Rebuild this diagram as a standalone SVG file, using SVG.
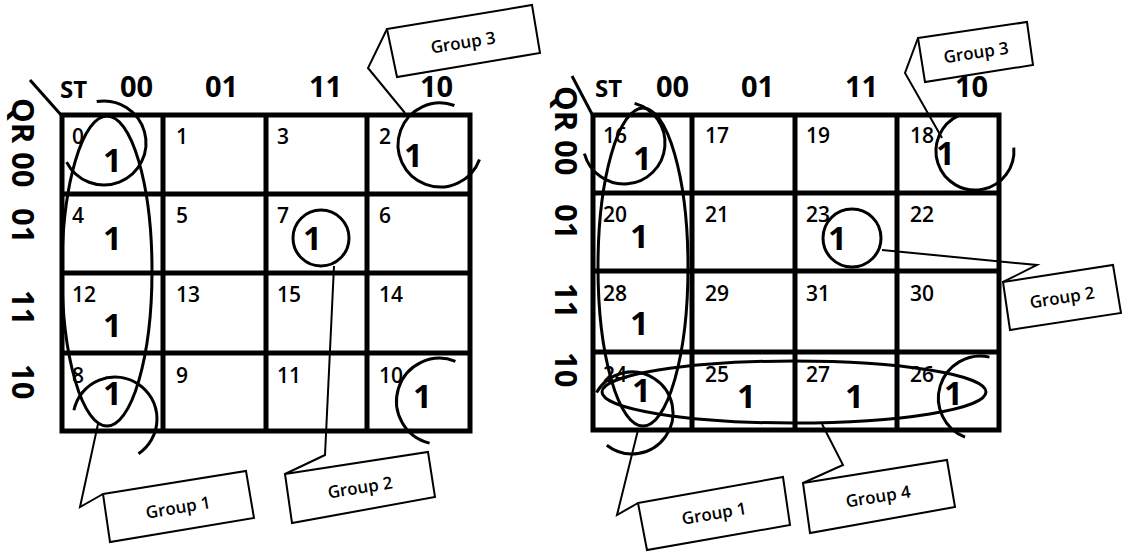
<svg xmlns="http://www.w3.org/2000/svg" width="1122" height="552" viewBox="0 0 1122 552">
<style>
.grid{fill:none;stroke:#000;stroke-width:5}
.loop{fill:none;stroke:#000;stroke-width:3}
.call{fill:none;stroke:#000;stroke-width:2}
.box{fill:#fff;stroke:#000;stroke-width:2}
.hdr{font-family:"Open Sans","Liberation Sans",sans-serif;font-weight:700;font-size:29px;fill:#000}
.st{font-family:"Open Sans","Liberation Sans",sans-serif;font-weight:700;font-size:24px;fill:#000}
.row{font-family:"Open Sans","Liberation Sans",sans-serif;font-weight:700;font-size:31px;fill:#000}
.num{font-family:"Open Sans","Liberation Sans",sans-serif;font-weight:600;font-size:21px;fill:#000}
.one{font-family:"Open Sans","Liberation Sans",sans-serif;font-weight:700;font-size:33px;fill:#000}
.lbl{font-family:"Open Sans","Liberation Sans",sans-serif;font-weight:600;font-size:17px;fill:#000;text-anchor:middle;dominant-baseline:central}
</style>

<g id="map-left">
  <line x1="30" y1="80" x2="62" y2="116" stroke="#000" stroke-width="3"/>
  <rect class="grid" x="62" y="115" width="408" height="316"/>
  <path class="grid" d="M163,115V431M266,115V431M367,115V431M62,194H470M62,273H470M62,353H470"/>
  <text class="st" x="60" y="98">ST</text>
  <text class="hdr" x="120" y="97">00</text>
  <text class="hdr" x="205" y="97">01</text>
  <text class="hdr" x="309" y="97">11</text>
  <text class="hdr" x="420" y="97">10</text>
  <text class="row" transform="translate(12,98) rotate(90)">QR</text>
  <text class="row" transform="translate(12,152) rotate(90)">00</text>
  <text class="row" transform="translate(12,208) rotate(90)">01</text>
  <text class="row" transform="translate(12,290) rotate(90)">11</text>
  <text class="row" transform="translate(12,364) rotate(90)">10</text>
  <g class="num">
    <text x="72" y="144">0</text><text x="176" y="144">1</text><text x="277" y="144">3</text><text x="379" y="144">2</text>
    <text x="72" y="223">4</text><text x="176" y="223">5</text><text x="277" y="223">7</text><text x="379" y="223">6</text>
    <text x="72" y="302">12</text><text x="176" y="302">13</text><text x="277" y="302">15</text><text x="379" y="302">14</text>
    <text x="72" y="383">8</text><text x="176" y="383">9</text><text x="277" y="383">11</text><text x="379" y="383">10</text>
  </g>
  <g class="one">
    <text x="103" y="172">1</text><text x="103" y="250">1</text><text x="103" y="337">1</text><text x="103" y="405">1</text>
    <text x="404" y="167">1</text><text x="303" y="250">1</text><text x="413" y="408">1</text>
  </g>
  <g id="left-loops">
    <ellipse class="loop" cx="107" cy="271" rx="45" ry="155"/>
    <path class="loop" d="M96.7,101.6 A42,42 0 1 1 66.6,162.1"/>
    <path class="loop" d="M454.4,105.5 A42,42 0 1 0 479.5,159.4"/>
    <circle class="loop" cx="321" cy="238" r="28"/>
    <path class="loop" d="M73.9,410.3 A42,42 0 1 1 138.5,453.8"/>
    <path class="loop" d="M455.4,361.3 A43,43 0 1 0 429.6,443.1"/>
  </g>
</g>

<g id="map-right">
  <line x1="572" y1="76" x2="593" y2="116" stroke="#000" stroke-width="3"/>
  <rect class="grid" x="593" y="115" width="406" height="315"/>
  <path class="grid" d="M692,115V430M795,115V430M897,115V430M593,193H999M593,271H999M593,352H999"/>
  <text class="st" x="595" y="97">ST</text>
  <text class="hdr" x="656" y="97">00</text>
  <text class="hdr" x="741" y="97">01</text>
  <text class="hdr" x="845" y="97">11</text>
  <text class="hdr" x="955" y="97">10</text>
  <text class="row" transform="translate(555,86) rotate(90)">QR</text>
  <text class="row" transform="translate(555,140) rotate(90)">00</text>
  <text class="row" transform="translate(555,204) rotate(90)">01</text>
  <text class="row" transform="translate(555,283) rotate(90)">11</text>
  <text class="row" transform="translate(555,352) rotate(90)">10</text>
  <g class="num">
    <text x="603" y="143">16</text><text x="705" y="143">17</text><text x="806" y="143">19</text><text x="910" y="143">18</text>
    <text x="603" y="222">20</text><text x="705" y="222">21</text><text x="806" y="222">23</text><text x="910" y="222">22</text>
    <text x="603" y="301">28</text><text x="705" y="301">29</text><text x="806" y="301">31</text><text x="910" y="301">30</text>
    <text x="603" y="382">24</text><text x="705" y="382">25</text><text x="806" y="382">27</text><text x="910" y="382">26</text>
  </g>
  <g class="one">
    <text x="633" y="170">1</text><text x="936" y="165">1</text><text x="630" y="248">1</text><text x="630" y="335">1</text>
    <text x="828" y="250">1</text><text x="632" y="402">1</text><text x="737" y="408">1</text><text x="845" y="408">1</text><text x="944" y="405">1</text>
  </g>
  <g id="right-loops">
    <ellipse class="loop" cx="643" cy="267" rx="45" ry="159"/>
    <path class="loop" d="M634.6,103.4 A41,41 0 1 1 584.4,153.6"/>
    <path class="loop" d="M958.5,115.7 A39,39 0 1 0 1013.8,147.6"/>
    <circle class="loop" cx="852" cy="238" r="29"/>
    <ellipse class="loop" cx="794" cy="392" rx="192" ry="31"/>
    <path class="loop" d="M596.5,392.5 A41,41 0 1 1 606.8,445.3"/>
    <path class="loop" d="M989.4,357.1 A42,42 0 0 0 965,437.2"/>
  </g>
</g>

<g id="connectors">
  <polyline class="call" points="98,424 80,507 103,494"/>
  <polyline class="call" points="334,266 325,455 285,474"/>
  <polyline class="call" points="387,29 368,68 405,113"/>
  <polyline class="call" points="638,430 617,515 638,503"/>
  <polyline class="call" points="822,424 843,465 803,483"/>
  <polyline class="call" points="882,250 1037,265 1003,282"/>
  <polyline class="call" points="918,38 905,73 942,138"/>
</g>

<g id="callout-l1"><polygon class="box" points="103,494 246,471 254,518 110,542"/><text class="lbl" transform="translate(178,507) rotate(-9.5)">Group 1</text></g>
<g id="callout-l2"><polygon class="box" points="285,474 428,452 435,497 292,523"/><text class="lbl" transform="translate(360,487) rotate(-9)">Group 2</text></g>
<g id="callout-l3"><polygon class="box" points="387,29 532,5 540,53 397,77"/><text class="lbl" transform="translate(463,42) rotate(-9)">Group 3</text></g>
<g id="callout-r1"><polygon class="box" points="638,503 783,477 790,525 647,550"/><text class="lbl" transform="translate(714,513) rotate(-9.5)">Group 1</text></g>
<g id="callout-r4"><polygon class="box" points="803,483 947,460 955,507 810,533"/><text class="lbl" transform="translate(878,496) rotate(-9)">Group 4</text></g>
<g id="callout-r2"><polygon class="box" points="1003,282 1113,265 1121,313 1010,330"/><text class="lbl" transform="translate(1062,297) rotate(-9)">Group 2</text></g>
<g id="callout-r3"><polygon class="box" points="918,38 1027,22 1033,65 925,82"/><text class="lbl" transform="translate(976,52) rotate(-8.5)">Group 3</text></g>
</svg>
